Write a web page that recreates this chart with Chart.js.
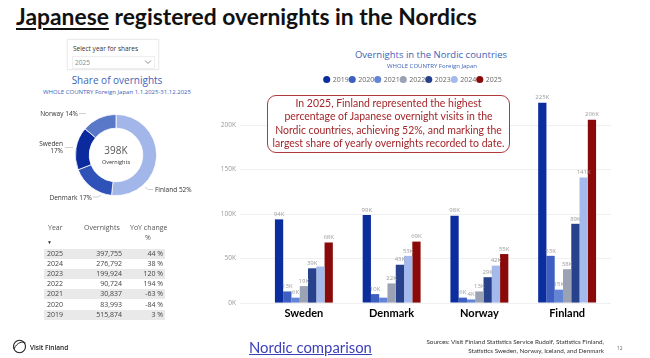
<!DOCTYPE html>
<html><head><meta charset="utf-8">
<script src="https://cdn.jsdelivr.net/npm/chart.js@4.4.1/dist/chart.umd.min.js"></script>
<style>
html,body{margin:0;padding:0;background:#fff;}
body{width:650px;height:358px;position:relative;overflow:hidden;font-family:"Open Sans",sans-serif;}
.abs{position:absolute;white-space:nowrap;}
.pbiblue{color:#3e63b8;}
.tcell{position:absolute;font-size:7px;color:#444;line-height:10px;white-space:nowrap;}
</style></head><body>

<div id="title" class="abs" style="left:16px;top:2px;font-family:Lato,sans-serif;font-weight:700;font-size:25px;color:#111;"><span style="text-decoration:underline;text-decoration-thickness:2px;text-underline-offset:3px;">Japanese</span> registered overnights in the Nordics</div>

<!-- slicer -->
<div class="abs" style="left:67px;top:39px;width:90px;height:29px;border:1px solid #ececec;box-shadow:0 0 2px #eee;"></div>
<div class="abs" style="left:73px;top:44px;font-size:6.5px;color:#333;">Select year for shares</div>
<div class="abs" style="left:72px;top:56px;width:81px;height:11px;border:1px solid #eeeeee;"></div>
<div class="abs" style="left:75px;top:58px;font-size:6.5px;color:#888;">2025</div>
<svg class="abs" style="left:144px;top:59px;" width="8" height="6"><polyline points="1,1.5 4,4.5 7,1.5" fill="none" stroke="#777" stroke-width="0.8"/></svg>

<div class="abs pbiblue" style="left:17px;width:200px;text-align:center;top:73px;font-size:10px;">Share of overnights</div>
<div class="abs pbiblue" style="left:17px;width:200px;text-align:center;top:88px;font-size:6px;">WHOLE COUNTRY Foreign Japan 1.1.2025-31.12.2025</div>

<canvas id="donut" width="160" height="100" style="position:absolute;left:36px;top:105px;"></canvas>
<svg class="abs" style="left:0;top:0;" width="220" height="220" id="leaders">
  <polyline points="79,113.5 86,113.5" fill="none" stroke="#bbb" stroke-width="0.7"/>
  <polyline points="65,147.5 73,147.5" fill="none" stroke="#bbb" stroke-width="0.7"/>
  <polyline points="93,197 98,197 101,195" fill="none" stroke="#bbb" stroke-width="0.7"/>
  <polyline points="145,187 148,189.5 153,189.5" fill="none" stroke="#bbb" stroke-width="0.7"/>
</svg>
<div id="dl" style="position:absolute;left:0;top:0;"></div>

<div id="table" style="position:absolute;left:0;top:0;"></div>

<!-- bar chart -->
<div class="abs pbiblue" style="left:331px;width:200px;text-align:center;top:48px;font-size:9.5px;">Overnights in the Nordic countries</div>
<div class="abs pbiblue" style="left:332px;width:200px;text-align:center;top:62px;font-size:6px;">WHOLE COUNTRY Foreign Japan</div>
<canvas id="bars" width="410" height="254" style="position:absolute;left:215px;top:69px;"></canvas>

<div id="note" class="abs" style="left:267px;top:95px;width:241px;height:55px;border:1px solid #b03a3a;border-radius:9px;background:#fff;color:#a3262a;font-family:Lato,sans-serif;font-size:10px;line-height:13.4px;text-align:center;padding-top:1px;">
<span class="nl">In 2025, Finland represented the highest</span><br><span class="nl">percentage of Japanese overnight visits in the</span><br><span class="nl" id="nl3">Nordic countries, achieving 52%, and marking the</span><br><span class="nl">largest share of yearly overnights recorded to date.</span>
</div>

<!-- footer -->
<svg class="abs" style="left:12px;top:339px;" width="16" height="15">
  <ellipse cx="7.5" cy="7.5" rx="6" ry="6.3" fill="none" stroke="#222" stroke-width="1.1"/>
  <path d="M2,10 C5,3 11,2 13.5,4" fill="none" stroke="#222" stroke-width="1"/>
</svg>
<div class="abs" style="left:30px;top:343px;font-size:6.5px;font-weight:600;color:#222;">Visit Finland</div>
<div id="link" class="abs" style="left:249px;top:338px;font-family:Lato,sans-serif;font-size:12.5px;color:#3b3fb8;text-decoration:underline;">Nordic comparison</div>
<div id="src" class="abs" style="right:46px;top:337px;font-family:Lato,sans-serif;font-size:6.3px;color:#333;text-align:right;line-height:9px;">Sources: Visit Finland Statistics Service Rudolf, Statistics Finland,<br>Statistics Sweden, Norway, Iceland, and Denmark</div>
<div class="abs" style="left:617px;top:345px;font-size:5px;color:#666;">12</div>

<script>
// ---------------- DATA ----------------
const countries = ["Sweden", "Denmark", "Norway", "Finland"];
const years = ["2019", "2020", "2021", "2022", "2023", "2024", "2025"];
// overnights in thousands, order: Sweden, Denmark, Norway, Finland
const v2019 = [94, 99, 98, 225];
const v2020 = [13, 10, 6, 53];
const v2021 = [6, 6, 4, 15];
const v2022 = [19, 22, 13, 38];
const v2023 = [39, 43, 29, 89];
const v2024 = [41, 53, 42, 141];
const v2025 = [68, 69, 55, 206];
const yTicks = [0, 50, 100, 150, 200];
// donut: share of overnights 2025 (clockwise from top)
const shareLabels = ["Finland", "Denmark", "Sweden", "Norway"];
const shareValues = [206, 69, 68, 55];
// table
const tableYears = ["2025", "2024", "2023", "2022", "2021", "2020", "2019"];
const tableOvernights = ["397,755", "276,792", "199,924", "90,724", "30,837", "83,993", "515,874"];
const tableYoY = ["44 %", "38 %", "120 %", "194 %", "-63 %", "-84 %", "3 %"];

// ---------------- STYLES ----------------
const yearColors = ["#0b2d9e", "#3d5fc2", "#6484d6", "#9aa2b3", "#28418c", "#a4b9ec", "#8a0a0a"];
const shareColors = ["#a2b6ea", "#2f52b8", "#0a2a9e", "#5a78c8"];

// ---------------- TEXT FIT ----------------
function fitWidth(el, w) {
  const cur = el.getBoundingClientRect().width;
  const fs = parseFloat(getComputedStyle(el).fontSize);
  if (cur > 0) el.style.fontSize = (fs * w / cur) + 'px';
}
fitWidth(document.getElementById('title'), 461);
(function(){
  const note = document.getElementById('note');
  const s = document.getElementById('nl3');
  s.style.display='inline-block';
  const cur = s.getBoundingClientRect().width;
  s.style.display='';
  const fs = parseFloat(getComputedStyle(note).fontSize);
  note.style.fontSize = (fs*227/cur)+'px';
})();
fitWidth(document.getElementById('link'), 123);

// ---------------- TABLE ----------------
(function(){
  const t = document.getElementById('table');
  let h = '';
  h += '<div class="tcell" style="left:48px;top:223px;color:#555;">Year</div>';
  h += '<div class="tcell" style="left:84px;top:223px;color:#555;">Overnights</div>';
  h += '<div class="tcell" style="left:130px;top:223px;color:#555;">YoY change</div>';
  h += '<div class="tcell" style="left:145px;top:233px;color:#555;">%</div>';
  h += '<div class="tcell" style="left:47px;top:237px;font-size:5px;color:#333;">&#9660;</div>';
  const top0 = 249, rh = 10.1;
  tableYears.forEach((y,i)=>{
    const top = top0 + i*rh;
    if (i%2===0) h += '<div style="position:absolute;left:44px;top:'+top+'px;width:121px;height:'+rh+'px;background:#e9e9e9;"></div>';
    h += '<div class="tcell" style="left:47px;top:'+top+'px;">'+y+'</div>';
    h += '<div class="tcell" style="left:70px;width:52px;text-align:right;top:'+top+'px;">'+tableOvernights[i]+'</div>';
    h += '<div class="tcell" style="left:125px;width:38px;text-align:right;top:'+top+'px;">'+tableYoY[i]+'</div>';
  });
  t.innerHTML = h;
})();

// ---------------- DONUT ----------------
const shareTotal = shareValues.reduce((a,b)=>a+b,0);
(function(){
  const pct = shareValues.map(v=>Math.round(v/shareTotal*100));
  const d = document.getElementById('dl');
  const st = 'position:absolute;font-size:6.5px;color:#333;line-height:7px;white-space:nowrap;';
  d.innerHTML =
    '<div style="'+st+'left:20px;width:58px;text-align:right;top:110px;">'+shareLabels[3]+' '+pct[3]+'%</div>'+
    '<div style="'+st+'left:20px;width:43px;text-align:right;top:140px;">'+shareLabels[2]+'<br>'+pct[2]+'%</div>'+
    '<div style="'+st+'left:30px;width:62px;text-align:right;top:194px;">'+shareLabels[1]+' '+pct[1]+'%</div>'+
    '<div style="'+st+'left:155px;top:186px;">'+shareLabels[0]+' '+pct[0]+'%</div>';
})();

const centerText = {
  id:'centerText',
  afterDraw(chart){
    const a = chart.getDatasetMeta(0).data[0];
    const ctx = chart.ctx;
    ctx.save();
    ctx.textAlign='center';
    ctx.fillStyle='#555';
    ctx.font='10px "Open Sans"';
    ctx.textBaseline='middle';
    ctx.fillText(Math.round(shareTotal)+'K', a.x, a.y-3.5);
    ctx.fillStyle='#333';
    ctx.font='5.5px "Open Sans"';
    ctx.fillText('Overnights', a.x, a.y+7);
    ctx.restore();
  }
};

new Chart(document.getElementById('donut'), {
  type:'doughnut',
  data:{labels:shareLabels, datasets:[{data:shareValues, backgroundColor:shareColors, borderColor:'#fff', borderWidth:0.8, hoverOffset:0}]},
  options:{
    responsive:false, animation:false, devicePixelRatio:1,
    cutout:'66%',
    layout:{padding:{top:9,bottom:9,left:9,right:9}},
    plugins:{legend:{display:false}, tooltip:{enabled:false}}
  },
  plugins:[centerText]
});

// ---------------- BARS ----------------
const series = [v2019, v2020, v2021, v2022, v2023, v2024, v2025];

const barLabels = {
  id:'barLabels',
  afterDatasetsDraw(chart){
    const ctx = chart.ctx;
    ctx.save();
    ctx.font = '6px "Open Sans"';
    ctx.fillStyle = '#9b9b9b';
    ctx.textAlign = 'center';
    ctx.textBaseline = 'bottom';
    const placed = [];
    chart.data.datasets.forEach((ds, di)=>{
      const meta = chart.getDatasetMeta(di);
      meta.data.forEach((bar, i)=>{
        const txt = ds.data[i] + 'K';
        const w = ctx.measureText(txt).width;
        const x = bar.x, y = bar.y - 2;
        const box = {l:x-w/2, r:x+w/2, t:y-6, b:y};
        const hit = placed.some(p => !(box.r < p.l || box.l > p.r || box.b < p.t || box.t > p.b));
        if (hit) return;
        placed.push(box);
        ctx.fillText(txt, x, y);
      });
    });
    ctx.restore();
  }
};

new Chart(document.getElementById('bars'), {
  type:'bar',
  data:{
    labels:countries,
    datasets: years.map((y,i)=>({label:y, data:series[i], backgroundColor:yearColors[i], borderWidth:0}))
  },
  options:{
    responsive:false, animation:false, devicePixelRatio:1,
    categoryPercentage:0.66, barPercentage:1.0,
    layout:{padding:{top:6,right:14,bottom:0,left:0}},
    plugins:{
      legend:{
        position:'top',
        labels:{usePointStyle:true, pointStyle:'circle', boxWidth:5, boxHeight:5, padding:1,
                color:'#666', font:{family:'"Open Sans"', size:7}}
      },
      tooltip:{enabled:false}
    },
    scales:{
      x:{
        grid:{display:false, drawTicks:false},
        border:{display:false},
        ticks:{color:'#000', padding:4, font:{family:'Lato', weight:'bold', size:11}},
        afterFit(s){ s.height = 20; }
      },
      y:{
        min:0, max:236,
        afterBuildTicks(s){ s.ticks = yTicks.map(v=>({value:v})); },
        grid:{color:'#ececec', lineWidth:0.8, drawTicks:true, tickLength:20, tickColor:'#ececec'},
        border:{display:false},
        ticks:{color:'#999', padding:4, font:{family:'"Open Sans"', size:6.5}, callback:v=>v+'K'},
        afterFit(s){ s.width = 45; }
      }
    }
  },
  plugins:[barLabels]
});
</script>
</body></html>
